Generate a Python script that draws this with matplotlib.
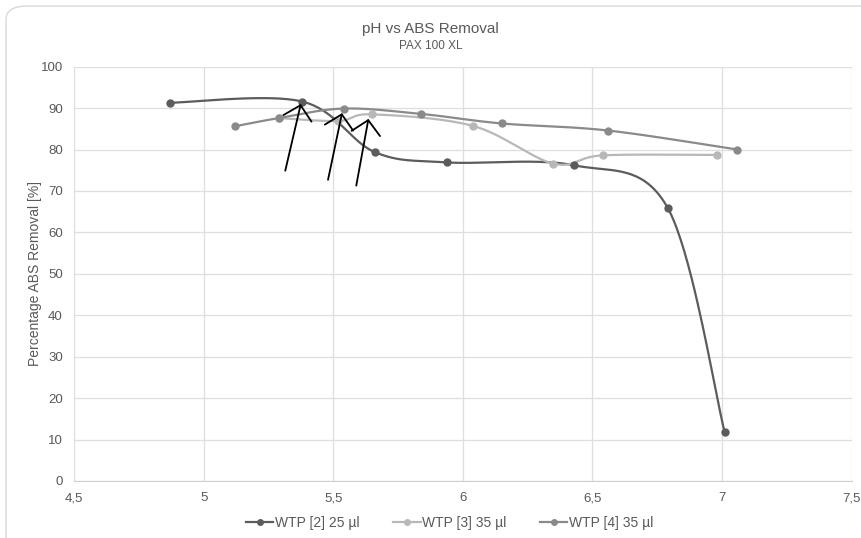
import numpy as np
import matplotlib
matplotlib.use("Agg")
from matplotlib import pyplot as plt
from matplotlib.patches import FancyBboxPatch

plt.rcParams['font.family'] = ['Liberation Sans', 'DejaVu Sans']

# data
ph_wtp2 = [4.87, 5.38, 5.66, 5.94, 6.43, 6.79, 7.01]
abs_wtp2 = [91.3, 91.6, 79.4, 76.9, 76.2, 66.0, 11.9]

ph_wtp3 = [5.29, 5.52, 5.65, 6.04, 6.35, 6.54, 6.98]
abs_wtp3 = [87.6, 86.9, 88.5, 85.7, 76.6, 78.6, 78.7]

ph_wtp4 = [5.12, 5.29, 5.54, 5.84, 6.15, 6.56, 7.06]
abs_wtp4 = [85.6, 87.6, 89.9, 88.6, 86.3, 84.6, 80.0]

labels = ['WTP [2] 25 µl', 'WTP [3] 35 µl', 'WTP [4] 35 µl']
colors = ['#5c5c5c', '#b8b8b8', '#8a8a8a']

x_ticks = [4.5, 5, 5.5, 6, 6.5, 7, 7.5]
x_ticklabels = ['4,5', '5', '5,5', '6', '6,5', '7', '7,5']
y_ticks = list(range(0, 101, 10))

# hand drawn arrows: (head x, head y, tail x, tail y)
arrows = [(5.375, 91.0, 5.315, 74.9),
          (5.534, 88.8, 5.48, 72.7),
          (5.636, 87.4, 5.589, 71.3)]


def smooth(xs, ys, n=40):
    # bezier smoothing similar to excel's "smoothed line"
    p = np.column_stack([xs, ys]).astype(float)
    p = np.vstack([p[0], p, p[-1]])
    out = []
    t = np.linspace(0, 1, n)[:, None]
    for i in range(1, len(p) - 2):
        p0, p3 = p[i], p[i + 1]
        c1 = p0 + (p[i + 1] - p[i - 1]) / 6
        c2 = p3 - (p[i + 2] - p[i]) / 6
        seg = (1 - t) ** 3 * p0 + 3 * (1 - t) ** 2 * t * c1 + 3 * (1 - t) * t ** 2 * c2 + t ** 3 * p3
        out.append(seg)
    out = np.vstack(out)
    return out[:, 0], out[:, 1]


fig = plt.figure(figsize=(8.61, 5.38), dpi=100)
ax = fig.add_axes([0.086, 0.106, 0.903, 0.770])

# chart border
fig.patches.append(FancyBboxPatch((6 / 861, -20 / 538), 900 / 861, 552 / 538,
                                  boxstyle="round,pad=0,rounding_size=0.025",
                                  transform=fig.transFigure, fill=False,
                                  edgecolor='#d9d9d9', linewidth=1.0))

series = [(ph_wtp2, abs_wtp2), (ph_wtp3, abs_wtp3), (ph_wtp4, abs_wtp4)]
handles = []
for (xs, ys), lab, col in zip(series, labels, colors):
    sx, sy = smooth(xs, ys)
    ax.plot(sx, sy, color=col, linewidth=1.6, zorder=3)
    ax.plot(xs, ys, 'o', color=col, markersize=5, zorder=4)
    h, = ax.plot([], [], '-o', color=col, linewidth=1.6, markersize=4, label=lab)
    handles.append(h)

for hx, hy, tx, ty in arrows:
    ax.annotate('', xy=(hx, hy), xytext=(tx, ty),
                arrowprops=dict(arrowstyle='->,head_length=0.75,head_width=0.8',
                                color='black', lw=1.3, mutation_scale=13,
                                shrinkA=0, shrinkB=0), zorder=5)

ax.set_xlim(4.5, 7.5)
ax.set_ylim(0, 100)
ax.set_xticks(x_ticks)
ax.set_xticklabels(x_ticklabels)
ax.set_yticks(y_ticks)
ax.grid(True, color='#dedede', linewidth=0.9)
ax.set_axisbelow(True)
for s in ['top', 'right']:
    ax.spines[s].set_visible(False)
ax.spines['left'].set_color('#dedede')
ax.spines['bottom'].set_color('#d0d0d0')
ax.tick_params(length=0, labelsize=9.5, labelcolor='#595959', pad=8)
ax.set_ylabel('Percentage ABS Removal [%]', fontsize=10, color='#595959', labelpad=-1)

fig.text(0.5, 0.939, 'pH vs ABS Removal', ha='center', fontsize=11, color='#595959')
fig.text(0.5, 0.909, 'PAX 100 XL', ha='center', fontsize=8.5, color='#595959')

fig.legend(handles=handles, loc='lower center', bbox_to_anchor=(0.522, -0.008), ncol=3,
           frameon=False, fontsize=10, labelcolor='#595959', handlelength=2.0,
           handletextpad=0.1, columnspacing=2.4)

fig.savefig('out.png', dpi=100)
